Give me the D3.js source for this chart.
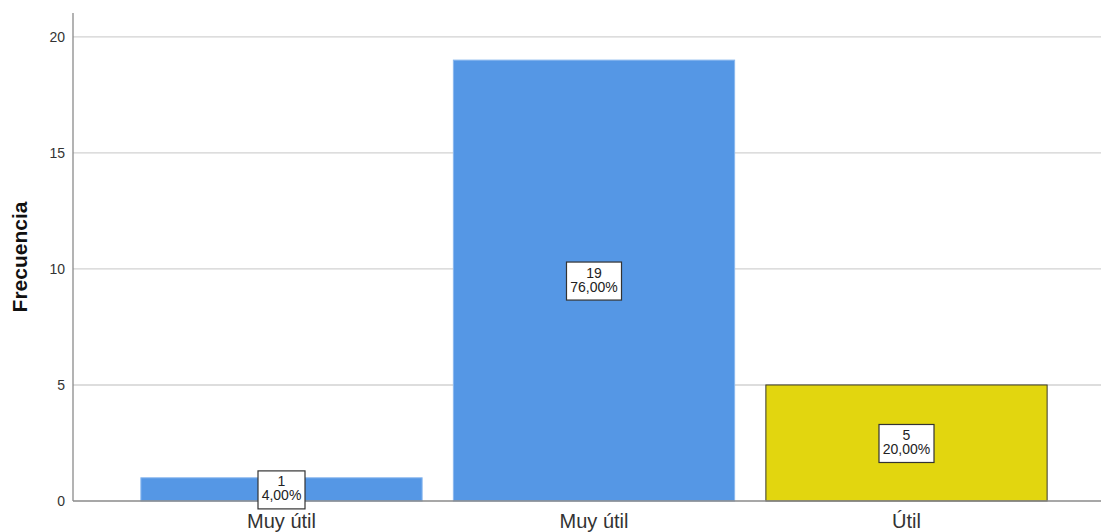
<!DOCTYPE html>
<html>
<head>
<meta charset="utf-8">
<script src="https://cdn.jsdelivr.net/npm/d3@7"></script>
<style>
  html, body { margin: 0; padding: 0; background: #fff; }
  svg { display: block; font-family: "Liberation Sans", Arial, sans-serif; }
</style>
</head>
<body>
<svg id="chart" width="1103" height="532"></svg>
<script>
// Response categories, frequencies and percentages
const categories = ["Muy útil", "Muy útil ", "Útil"];
const categoryLabels = ["Muy útil", "Muy útil", "Útil"];
const counts = [1, 19, 5];
const percentLabels = ["4,00%", "76,00%", "20,00%"];
const barColors = ["#5597e5", "#5597e5", "#e2d60f"];
const barStrokes = ["#8ab8ee", "#8ab8ee", "#3a3a2a"];
const yTicks = [0, 5, 10, 15, 20];

const svg = d3.select("#chart");
const W = 1103, H = 532;
const axisX = 73, plotTop = 13, baseY = 501;

const y = d3.scaleLinear().domain([0, 21.03]).range([baseY, plotTop]);
const x = d3.scaleBand()
  .domain(categories)
  .range([125.25, 1062.75])
  .paddingInner(0.1)
  .paddingOuter(0.05);

// horizontal gridlines
svg.append("g")
  .selectAll("line")
  .data(yTicks.filter(d => d > 0))
  .join("line")
  .attr("x1", axisX).attr("x2", W - 2)
  .attr("y1", d => y(d)).attr("y2", d => y(d))
  .attr("stroke", "#d2d2d2").attr("stroke-width", 1.3);

// y axis (labels only, no tick marks)
const yAxis = d3.axisLeft(y).tickValues(yTicks).tickSize(0).tickPadding(8).tickFormat(d3.format("d"));
const gy = svg.append("g").attr("transform", `translate(${axisX},0)`).call(yAxis);
gy.select(".domain").remove();
gy.selectAll(".tick line").remove();
gy.selectAll(".tick text").attr("font-size", 14).attr("fill", "#333")
  .attr("font-family", "'Liberation Sans', Arial, sans-serif");
svg.append("line")
  .attr("x1", axisX).attr("x2", axisX)
  .attr("y1", plotTop).attr("y2", baseY)
  .attr("stroke", "#8a8a8a").attr("stroke-width", 1.3);

// bars
svg.append("g")
  .selectAll("rect")
  .data(categories)
  .join("rect")
  .attr("x", d => x(d))
  .attr("width", x.bandwidth())
  .attr("y", (d, i) => y(counts[i]))
  .attr("height", (d, i) => baseY - y(counts[i]))
  .attr("fill", (d, i) => barColors[i])
  .attr("stroke", (d, i) => barStrokes[i])
  .attr("stroke-width", 1);

// baseline
svg.append("line")
  .attr("x1", axisX).attr("x2", W - 2)
  .attr("y1", baseY).attr("y2", baseY)
  .attr("stroke", "#8a8a8a").attr("stroke-width", 1.3);

// category axis
const xAxis = d3.axisBottom(x).tickSize(0).tickPadding(13).tickFormat((d, i) => categoryLabels[i]);
const gx = svg.append("g").attr("transform", `translate(0,${baseY})`).call(xAxis);
gx.select(".domain").remove();
gx.selectAll(".tick text").attr("font-size", 20).attr("fill", "#333")
  .attr("font-family", "'Liberation Sans', Arial, sans-serif");

// value labels (count and percentage) in boxes
const labels = svg.append("g")
  .selectAll("g")
  .data(categories)
  .join("g")
  .attr("transform", (d, i) => `translate(${x(d) + x.bandwidth() / 2},${y(counts[i] / 2)})`);

labels.each(function (d, i) {
  const g = d3.select(this);
  const bw = i === 0 ? 47 : 55, bh = 38;
  g.append("rect")
    .attr("x", -bw / 2).attr("y", -bh / 2 + 0.5)
    .attr("width", bw).attr("height", bh)
    .attr("fill", "#fff").attr("stroke", "#333").attr("stroke-width", 1.2);
  g.append("text")
    .attr("text-anchor", "middle").attr("y", -3)
    .attr("font-size", 14).attr("fill", "#222")
    .text(counts[i]);
  g.append("text")
    .attr("text-anchor", "middle").attr("y", 11)
    .attr("font-size", 14).attr("fill", "#222")
    .text(percentLabels[i]);
});

// y axis title
svg.append("text")
  .attr("transform", "translate(27,257) rotate(-90)")
  .attr("text-anchor", "middle")
  .attr("font-size", 21).attr("font-weight", "bold").attr("fill", "#111")
  .text("Frecuencia");
</script>
</body>
</html>
